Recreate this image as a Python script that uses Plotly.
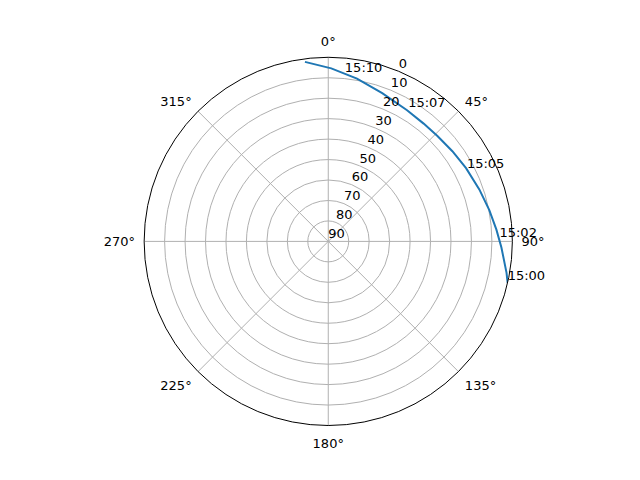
import plotly.graph_objects as go

# satellite pass: azimuth (deg) / elevation (deg)
azimuth = [103, 100, 92, 86, 79, 71, 62, 54, 46, 39, 31, 20, 10, 1, -7.4]
elevation = [0, 1.5, 5.3, 7.6, 9.8, 11.9, 13.7, 15.0, 15.8, 15.9, 15.2, 12.9, 9.2, 5.4, 1.5]

# time labels along the track
label_times = ['15:00', '15:02', '15:05', '15:07', '15:10']
label_az = [103, 89.5, 63.1, 31.3, 5.7]
label_el = [0, 6.3, 14.0, 14.8, 8.3]

r_ticks = [0, 10, 20, 30, 40, 50, 60, 70, 80, 90]

fig = go.Figure()

fig.add_trace(go.Scatterpolar(
    r=elevation, theta=azimuth, mode='lines',
    line=dict(color='#1f77b4', width=2),
    showlegend=False, hoverinfo='skip'))

fig.add_trace(go.Scatterpolar(
    r=label_el, theta=label_az, mode='text', text=label_times,
    textposition='top right',
    textfont=dict(family='DejaVu Sans', size=13, color='black'),
    showlegend=False, hoverinfo='skip'))

# radial labels along 22.5 deg, anchored bottom-left like matplotlib
fig.add_trace(go.Scatterpolar(
    r=r_ticks, theta=[22.5] * len(r_ticks),
    mode='text', text=[str(v) for v in r_ticks],
    textposition='top right', cliponaxis=False,
    textfont=dict(family='DejaVu Sans', size=13, color='black'),
    showlegend=False, hoverinfo='skip'))

fig.update_layout(
    width=640, height=480,
    paper_bgcolor='white',
    margin=dict(l=0, r=0, t=0, b=0),
    font=dict(family='DejaVu Sans', size=13, color='black'),
    polar=dict(
        domain=dict(x=[0.2123, 0.7885], y=[0.1302, 0.8973]),
        bgcolor='white',
        angularaxis=dict(
            rotation=90, direction='clockwise',
            tickmode='array',
            tickvals=[0, 45, 90, 135, 180, 225, 270, 315],
            ticktext=['0°', '45°', '90°', '135°', '180°', '225°', '270°', '315°'],
            showline=True, linecolor='black', linewidth=1,
            gridcolor='#b0b0b0', gridwidth=1,
            ticks='outside', ticklen=6, tickcolor='rgba(0,0,0,0)',
            tickfont=dict(size=13)),
        radialaxis=dict(
            range=[90, 0],
            tickmode='array', tickvals=r_ticks,
            showticklabels=False,
            showline=False, ticks='',
            gridcolor='#b0b0b0', gridwidth=1),
    ),
)

fig.write_html("out.html")
